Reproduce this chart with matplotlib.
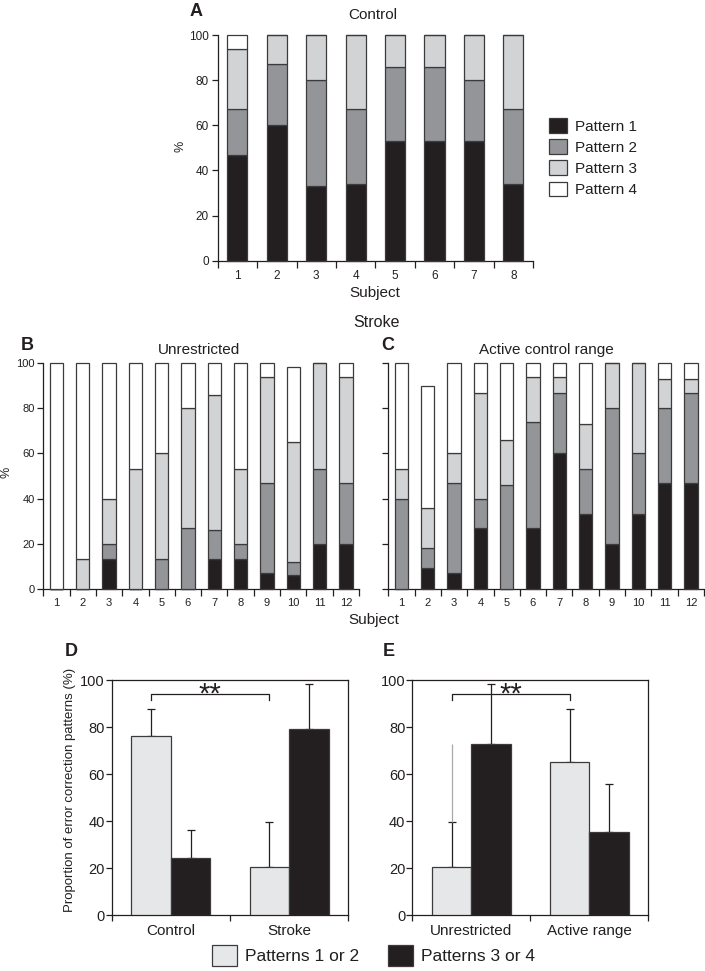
import matplotlib
matplotlib.use("Agg")
import matplotlib.pyplot as plt
import numpy as np

plt.rcParams['font.family'] = ['Liberation Sans', 'DejaVu Sans']

# panel A, control subjects: % of each error-correction pattern
a_subjects = [str(i) for i in range(1, 9)]
a_p1 = [47, 60, 33, 34, 53, 53, 53, 34]
a_p2 = [20, 27, 47, 33, 33, 33, 27, 33]
a_p3 = [27, 13, 20, 33, 14, 14, 20, 33]
a_p4 = [6, 0, 0, 0, 0, 0, 0, 0]

# panel B, stroke, unrestricted
b_subjects = [str(i) for i in range(1, 13)]
b_p1 = [0, 0, 13, 0, 0, 0, 13, 13, 7, 6, 20, 20]
b_p2 = [0, 0, 7, 0, 13, 27, 13, 7, 40, 6, 33, 27]
b_p3 = [0, 13, 20, 53, 47, 53, 60, 33, 47, 53, 47, 47]
b_p4 = [100, 87, 60, 47, 40, 20, 14, 47, 6, 33.5, 0, 6]

# panel C, stroke, active control range
c_p1 = [0, 9, 7, 27, 0, 27, 60, 33, 20, 33, 47, 47]
c_p2 = [40, 9, 40, 13, 46, 47, 27, 20, 60, 27, 33, 40]
c_p3 = [13, 18, 13, 47, 20, 20, 7, 20, 20, 40, 13, 6]
c_p4 = [47, 54, 40, 13, 34, 6, 6, 27, 0, 0, 7, 7]

pattern_labels = ['Pattern 1', 'Pattern 2', 'Pattern 3', 'Pattern 4']

# panel D and E: mean and SD (upper only)
d_groups = ['Control', 'Stroke']
d_light = [76, 20.5]
d_light_sd = [11.5, 19]
d_dark = [24.3, 79.3]
d_dark_sd = [12, 19]

e_groups = ['Unrestricted', 'Active range']
e_light = [20.5, 65]
e_light_sd = [19, 22.7]
e_dark = [72.8, 35.4]
e_dark_sd = [25.6, 20.6]
e_faint_top = 73  # faint grey line above the first error bar

W, H = 705, 971
colors = ['#231f20', '#939598', '#d1d3d4', '#ffffff']
light = '#e6e7e8'
edge = '#3c3a3b'
ink = '#231f20'


def rect(l, t, r, b):
    return [l / W, 1 - b / H, (r - l) / W, (b - t) / H]


def ftext(x, y, s, **kw):
    fig.text(x / W, 1 - y / H, s, ha='center', va='center', color=ink, **kw)


fig = plt.figure(figsize=(W / 100, H / 100), dpi=100)


def stacked(ax, labels, cols, ylabels=True, ticksize=8.5):
    n = len(labels)
    x = np.arange(1, n + 1)
    bottom = np.zeros(n)
    conts = []
    for vals, c in zip(cols, colors):
        vals = np.array(vals, dtype=float)
        bc = ax.bar(x, vals, 0.51, bottom=bottom, color=c, edgecolor=edge,
                    linewidth=0.9, clip_on=False, zorder=3)
        conts.append(bc)
        bottom += vals
    ax.set_xlim(0.5, n + 0.5)
    ax.set_ylim(0, 100)
    for s in ['top', 'right']:
        ax.spines[s].set_visible(False)
    for s in ['left', 'bottom']:
        ax.spines[s].set_color(ink)
        ax.spines[s].set_linewidth(0.9)
    ax.set_xticks(np.arange(0.5, n + 1, 1))
    ax.set_xticklabels([])
    ax.set_xticks(x, labels, minor=True)
    ax.tick_params(axis='x', which='major', direction='out', length=4.8,
                   width=0.9, color=ink)
    ax.tick_params(axis='x', which='minor', length=0, pad=7,
                   labelsize=ticksize, labelcolor=ink)
    ax.set_yticks(np.arange(0, 101, 20))
    if not ylabels:
        ax.set_yticklabels([])
    ax.tick_params(axis='y', direction='out', length=4.3, width=0.9,
                   color=ink, labelsize=ticksize, labelcolor=ink, pad=2)
    return conts


# ---- A
axA = fig.add_axes(rect(217.7, 35, 533, 260.7))
contsA = stacked(axA, a_subjects, [a_p1, a_p2, a_p3, a_p4])
leg = axA.legend(contsA, pattern_labels, loc='upper left',
                 bbox_to_anchor=(549 / W, 1 - 118 / H), bbox_transform=fig.transFigure,
                 frameon=False, fontsize=11, borderpad=0, borderaxespad=0,
                 handlelength=1.18, handleheight=1.1, labelspacing=0.37,
                 handletextpad=0.55)
for t in leg.get_texts():
    t.set_color(ink)
ftext(196, 12, 'A', fontsize=13, fontweight='bold')
ftext(373, 15, 'Control', fontsize=11)
ftext(180, 146, '%', fontsize=9, rotation=90)
ftext(375, 293, 'Subject', fontsize=11)
ftext(377, 322, 'Stroke', fontsize=11.5)

# ---- B
axB = fig.add_axes(rect(43.3, 363.3, 359, 588.7))
stacked(axB, b_subjects, [b_p1, b_p2, b_p3, b_p4], ticksize=8)
ftext(27, 345, 'B', fontsize=13, fontweight='bold')
ftext(199, 350, 'Unrestricted', fontsize=11)
ftext(7, 472, '%', fontsize=9, rotation=90)

# ---- C
axC = fig.add_axes(rect(388.3, 363.3, 704, 588.7))
stacked(axC, b_subjects, [c_p1, c_p2, c_p3, c_p4], ylabels=False, ticksize=8)
ftext(388, 346, 'C', fontsize=13, fontweight='bold')
ftext(546, 350, 'Active control range', fontsize=11)
ftext(374, 620, 'Subject', fontsize=11)


def grouped(ax, groups, lv, lsd, dv, dsd):
    x = np.arange(1, len(groups) + 1)
    w = 0.333
    bl = ax.bar(x - w / 2, lv, w, color=light, edgecolor=edge, linewidth=0.9, zorder=3)
    bd = ax.bar(x + w / 2, dv, w, color=colors[0], edgecolor=edge, linewidth=0.9, zorder=3)
    ax.errorbar(x - w / 2, lv, yerr=[np.zeros(len(lv)), lsd], fmt='none',
                ecolor=ink, elinewidth=0.9, capsize=3, capthick=0.9, zorder=2)
    ax.errorbar(x + w / 2, dv, yerr=[np.zeros(len(dv)), dsd], fmt='none',
                ecolor=ink, elinewidth=0.9, capsize=3, capthick=0.9, zorder=2)
    ax.set_xlim(0.5, len(groups) + 0.5)
    ax.set_ylim(0, 100)
    for s in ax.spines.values():
        s.set_color(ink)
        s.set_linewidth(0.9)
    ax.set_xticks(np.arange(0.5, len(groups) + 1, 1))
    ax.set_xticklabels([])
    ax.set_xticks(x, groups, minor=True)
    ax.tick_params(axis='x', which='major', direction='out', length=4.5,
                   width=0.9, color=ink)
    ax.tick_params(axis='x', which='minor', length=0, pad=6,
                   labelsize=11, labelcolor=ink)
    ax.set_yticks(np.arange(0, 101, 20))
    ax.tick_params(axis='y', direction='out', length=4, width=0.9,
                   color=ink, labelsize=10.5, labelcolor=ink, pad=1)
    # significance bracket between the light bars
    x0, x1 = x[0] - w / 2, x[1] - w / 2
    ax.plot([x0, x0, x1, x1], [91.3, 93.9, 93.9, 91.3], color=ink, lw=0.9,
            clip_on=False, zorder=4)
    ax.text((x0 + x1) / 2, 88.0, '**', ha='center', va='bottom',
            fontsize=21, color=ink, zorder=5)
    return bl, bd


# ---- D
axD = fig.add_axes(rect(111.7, 680, 348.3, 915.3))
bl, bd = grouped(axD, d_groups, d_light, d_light_sd, d_dark, d_dark_sd)
ftext(71, 652, 'D', fontsize=13, fontweight='bold')
ftext(70, 790, 'Proportion of error correction patterns (%)', fontsize=9.5, rotation=90)

# ---- E
axE = fig.add_axes(rect(412.3, 680, 648.3, 915.3))
grouped(axE, e_groups, e_light, e_light_sd, e_dark, e_dark_sd)
axE.vlines(1 - 0.333 / 2, e_light[0] + e_light_sd[0], e_faint_top,
           color='#a7a9ac', lw=0.9, zorder=2)
ftext(389, 652, 'E', fontsize=13, fontweight='bold')

leg2 = fig.legend([bl, bd], ['Patterns 1 or 2', 'Patterns 3 or 4'],
                  loc='upper left', bbox_to_anchor=(211.7 / W, 1 - 945 / H),
                  ncol=2, frameon=False, fontsize=12.5, borderpad=0,
                  borderaxespad=0, handlelength=1.44, handleheight=1.44,
                  columnspacing=1.67, handletextpad=0.48)
for t in leg2.get_texts():
    t.set_color(ink)

fig.savefig('out.png', dpi=100)
